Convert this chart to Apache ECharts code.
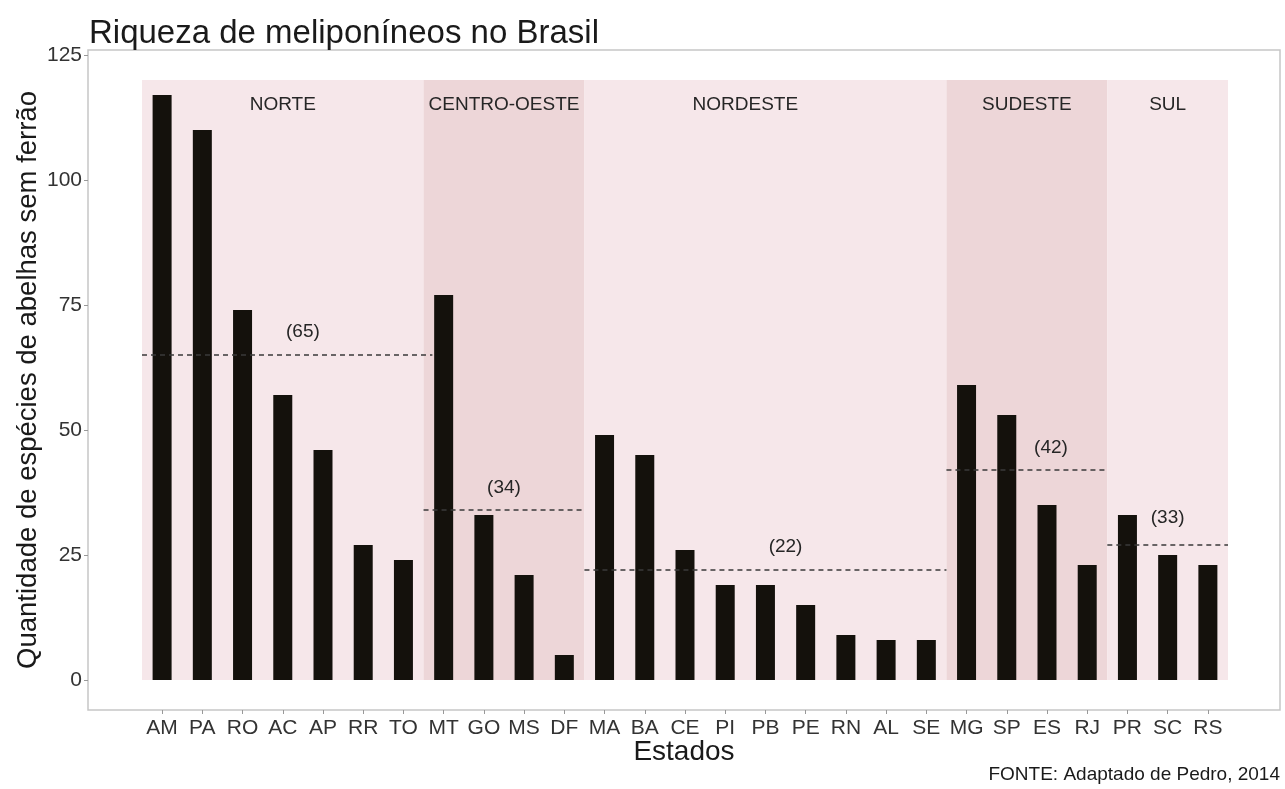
<!DOCTYPE html>
<html>
<head>
<meta charset="utf-8">
<script src="https://cdn.jsdelivr.net/npm/echarts@6/dist/echarts.min.js"></script>
<style>
  html, body { margin: 0; padding: 0; background: #fff; }
  #main { width: 1285px; height: 789px; }
</style>
</head>
<body>
<div id="main"></div>
<script>
// estados e quantidade de espécies
const estados = ['AM', 'PA', 'RO', 'AC', 'AP', 'RR', 'TO', 'MT', 'GO', 'MS', 'DF', 'MA', 'BA', 'CE', 'PI', 'PB', 'PE', 'RN', 'AL', 'SE', 'MG', 'SP', 'ES', 'RJ', 'PR', 'SC', 'RS']
const especies = [117, 110, 74, 57, 46, 27, 24, 77, 33, 21, 5, 49, 45, 26, 19, 19, 15, 9, 8, 8, 59, 53, 35, 23, 33, 25, 23]

// regiões (em unidades de estado, a partir da borda esquerda)
const regioes = ['NORTE', 'CENTRO-OESTE', 'NORDESTE', 'SUDESTE', 'SUL']
const regiaoInicio = [0, 7, 11, 20, 24]
const regiaoFim = [7, 11, 20, 24, 27]
const regiaoTopo = 120
const medias = [65, 34, 22, 42, 27]
const mediaFim = [7.22, 11, 20, 24, 27]
const mediaRotulos = ['(65)', '(34)', '(22)', '(42)', '(33)']

const yTicks = [0, 25, 50, 75, 100, 125]

// posição dos textos (x em unidades de estado, y em espécies)
const regiaoTextoX = [3.5, 9.0, 15.0, 22.0, 25.5]
const regiaoTextoY = 115
const rotuloX = [4.0, 9.0, 16.0, 22.6, 25.5]
const rotuloY = [69.6, 38.4, 26.6, 46.4, 32.4]

const corClara = '#f6e7ea'
const corEscura = '#edd6d8'
const fonte = 'Liberation Sans, Arial, sans-serif'

// estado i fica no centro da faixa [i, i+1]
const centros = estados.map((e, i) => i + 0.5)
const barras = especies.map((v, i) => [centros[i], v])
const fundo = regioes.map((r, i) => [regiaoInicio[i], regiaoFim[i], regiaoTopo, i])
const linhas = medias.map((m, i) => [regiaoInicio[i], mediaFim[i], m])
const textosRegiao = regioes.map((r, i) => [regiaoTextoX[i], regiaoTextoY, r])
const textosMedia = mediaRotulos.map((r, i) => [rotuloX[i], rotuloY[i], r])

const myChart = echarts.init(document.getElementById('main'))
const option = {
  animation: false,
  title: {
    text: 'Riqueza de meliponíneos no Brasil',
    left: 84,
    top: 12,
    textStyle: { fontFamily: fonte, fontSize: 33, fontWeight: 'normal', color: '#1a1a1a' }
  },
  grid: {
    left: 88, right: 5, top: 50, bottom: 79,
    show: true, borderColor: '#c6c6c6', borderWidth: 1.5, backgroundColor: 'transparent'
  },
  xAxis: {
    type: 'value',
    min: -1.3425,
    max: 28.293,
    splitLine: { show: false },
    axisLine: { show: false, onZero: false },
    axisTick: { show: true, length: 4, customValues: centros, lineStyle: { color: '#999' } },
    axisLabel: {
      fontFamily: fonte, fontSize: 21, color: '#333', margin: 8,
      customValues: centros,
      formatter: function (v) { return estados[Math.floor(v)] }
    },
    name: 'Estados',
    nameLocation: 'middle',
    nameMoveOverlap: false,
    nameGap: 28,
    nameTextStyle: { fontFamily: fonte, fontSize: 28, color: '#1a1a1a' }
  },
  yAxis: {
    type: 'value',
    min: -6,
    max: 126,
    splitLine: { show: false },
    axisLine: { show: false, onZero: false },
    axisTick: { show: true, length: 4, customValues: yTicks, lineStyle: { color: '#999' } },
    axisLabel: { fontFamily: fonte, fontSize: 21, color: '#333', margin: 6, customValues: yTicks },
    name: 'Quantidade de espécies de abelhas sem ferrão',
    nameLocation: 'middle',
    nameMoveOverlap: false,
    nameRotate: 90,
    nameGap: 46,
    nameTextStyle: { fontFamily: fonte, fontSize: 27.5, color: '#1a1a1a' }
  },
  series: [
    {
      type: 'custom',
      z: 1,
      data: fundo,
      renderItem: function (params, api) {
        const p0 = api.coord([api.value(0), api.value(2)])
        const p1 = api.coord([api.value(1), 0])
        return {
          type: 'rect',
          shape: { x: p0[0], y: p0[1], width: p1[0] - p0[0], height: p1[1] - p0[1] },
          style: { fill: api.value(3) % 2 === 1 ? corEscura : corClara }
        }
      }
    },
    {
      type: 'bar',
      z: 3,
      data: barras,
      barWidth: 19,
      itemStyle: { color: '#14110c' }
    },
    {
      type: 'custom',
      z: 4,
      data: linhas,
      renderItem: function (params, api) {
        const p0 = api.coord([api.value(0), api.value(2)])
        const p1 = api.coord([api.value(1), api.value(2)])
        return {
          type: 'line',
          shape: { x1: p0[0], y1: p0[1], x2: p1[0], y2: p1[1] },
          style: { stroke: '#3a3a3a', lineWidth: 1.6, lineDash: [5, 4] }
        }
      }
    },
    {
      type: 'custom',
      z: 5,
      data: textosRegiao.concat(textosMedia),
      renderItem: function (params, api) {
        const p = api.coord([api.value(0), api.value(1)])
        return {
          type: 'text',
          x: p[0],
          y: p[1],
          style: {
            text: api.value(2),
            fontFamily: fonte,
            fontSize: 19,
            fill: '#262626',
            align: 'center',
            verticalAlign: 'middle'
          }
        }
      },
      encode: { x: 0, y: 1 }
    }
  ],
  graphic: [
    {
      type: 'text',
      right: 5,
      top: 765,
      style: { text: 'FONTE: Adaptado de Pedro, 2014', fontFamily: fonte, fontSize: 19, fill: '#1a1a1a' }
    }
  ]
}
myChart.setOption(option)
</script>
</body>
</html>
